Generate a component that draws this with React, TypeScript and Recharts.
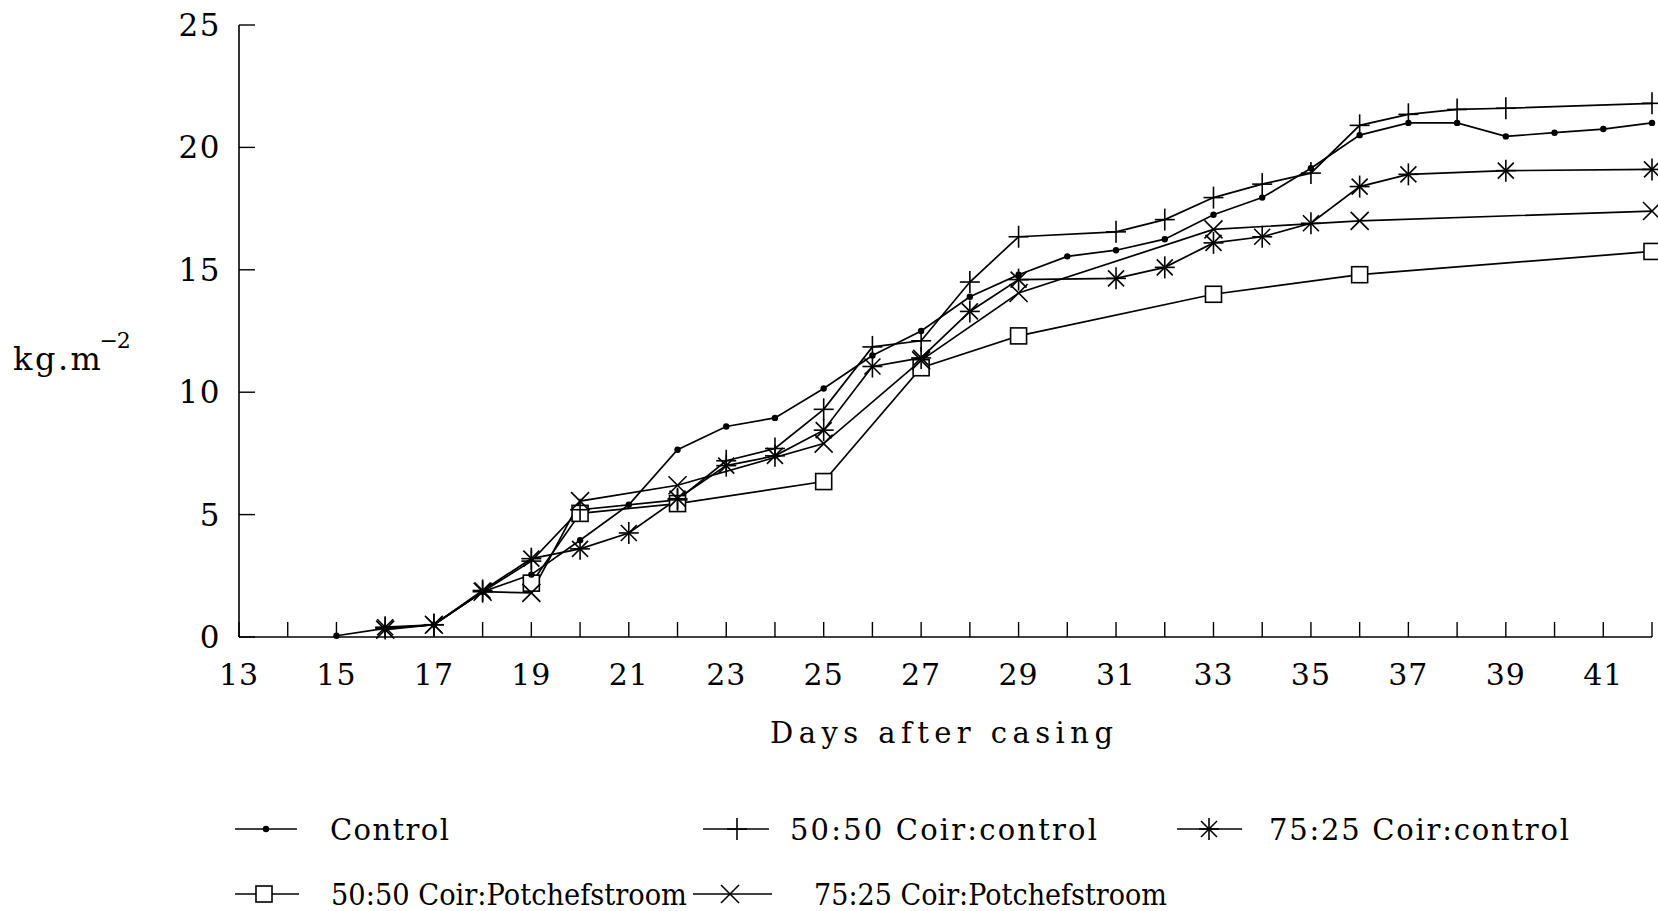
import { Line, LineChart, XAxis, YAxis } from "recharts";

// days after casing (x), kg.m-2 (y); null = no reading that day
const days = [15, 16, 17, 18, 19, 20, 21, 22, 23, 24, 25, 26, 27, 28, 29, 30, 31, 32, 33, 34, 35, 36, 37, 38, 39, 40, 41, 42];

const control = [0.05, 0.35, 0.5, 1.85, 2.55, 3.95, 5.4, 7.65, 8.6, 8.95, 10.15, 11.5, 12.5, 13.9, 14.8, 15.55, 15.8, 16.25, 17.25, 17.95, 19.15, 20.5, 21.0, 21.0, 20.45, 20.6, 20.75, 21.0];
const coir5050Control = [null, 0.35, 0.5, 1.85, 3.1, 5.2, null, 5.6, 7.2, 7.7, 9.3, 11.85, 12.1, 14.5, 16.35, null, 16.55, 17.05, 17.95, 18.5, 18.95, 20.9, 21.35, 21.55, 21.6, null, null, 21.8];
const coir7525Control = [null, 0.4, 0.5, 1.9, 3.2, 3.6, 4.25, 5.65, 7.0, 7.4, 8.45, 11.05, 11.4, 13.3, 14.6, null, 14.65, 15.1, 16.1, 16.35, 16.9, 18.4, 18.9, null, 19.05, null, null, 19.1];
const coir5050Potch = [null, null, null, null, 2.2, 5.05, null, 5.45, null, null, 6.35, null, 11.0, null, 12.3, null, null, null, 14.0, null, null, 14.8, null, null, null, null, null, 15.75];
const coir7525Potch = [null, 0.3, 0.5, 1.85, 1.8, 5.55, null, 6.2, null, null, 7.9, null, 11.3, null, 14.05, null, null, null, 16.65, null, null, 17.0, null, null, null, null, null, 17.4];

const xTicks = [13, 14, 15, 16, 17, 18, 19, 20, 21, 22, 23, 24, 25, 26, 27, 28, 29, 30, 31, 32, 33, 34, 35, 36, 37, 38, 39, 40, 41, 42];
const yTicks = [0, 5, 10, 15, 20, 25];

const series = [
  { key: "p5050", name: "50:50 Coir:Potchefstroom", values: coir5050Potch, marker: "square" },
  { key: "p7525", name: "75:25 Coir:Potchefstroom", values: coir7525Potch, marker: "cross" },
  { key: "c7525", name: "75:25 Coir:control", values: coir7525Control, marker: "star" },
  { key: "c5050", name: "50:50 Coir:control", values: coir5050Control, marker: "plus" },
  { key: "control", name: "Control", values: control, marker: "dot" },
];

const data = days.map((day, i) => {
  const row: Record<string, number | null> = { day };
  series.forEach((s) => (row[s.key] = s.values[i]));
  return row;
});

const FONT = '"DejaVu Serif", serif';
const INK = "#000";

function Marker({ kind, cx, cy }: { kind: string; cx: number; cy: number }) {
  const s = { stroke: INK, strokeWidth: 1.6, fill: "none" };
  if (kind === "dot") return <circle cx={cx} cy={cy} r={3.2} fill={INK} />;
  if (kind === "square")
    return <rect x={cx - 8} y={cy - 8} width={16} height={16} fill="#fff" stroke={INK} strokeWidth={1.6} />;
  if (kind === "plus")
    return (
      <g {...s}>
        <line x1={cx - 10} y1={cy} x2={cx + 10} y2={cy} />
        <line x1={cx} y1={cy - 11} x2={cx} y2={cy + 11} />
      </g>
    );
  if (kind === "cross")
    return (
      <g {...s}>
        <line x1={cx - 9} y1={cy - 9} x2={cx + 9} y2={cy + 9} />
        <line x1={cx - 9} y1={cy + 9} x2={cx + 9} y2={cy - 9} />
      </g>
    );
  // asterisk
  return (
    <g {...s}>
      <line x1={cx} y1={cy - 11} x2={cx} y2={cy + 11} />
      <line x1={cx - 10} y1={cy} x2={cx + 10} y2={cy} />
      <line x1={cx - 8} y1={cy - 8} x2={cx + 8} y2={cy + 8} />
      <line x1={cx - 8} y1={cy + 8} x2={cx + 8} y2={cy - 8} />
    </g>
  );
}

function XTick(props: any) {
  const { x, y, payload } = props;
  const v = payload.value;
  return (
    <g>
      <line x1={x} y1={y} x2={x} y2={y - 15} stroke={INK} strokeWidth={1.4} />
      {(v - 13) % 2 === 0 && (
        <text x={x} y={y + 48} textAnchor="middle" fontFamily={FONT} fontSize={30} letterSpacing={1} fill={INK}>
          {v}
        </text>
      )}
    </g>
  );
}

function YTick(props: any) {
  const { x, y, payload } = props;
  return (
    <g>
      <line x1={x} y1={y} x2={x + 16} y2={y} stroke={INK} strokeWidth={1.4} />
      <text x={x - 18} y={y + 11} textAnchor="end" fontFamily={FONT} fontSize={31} letterSpacing={1.5} fill={INK}>
        {payload.value}
      </text>
    </g>
  );
}

// row 2 entries are set tighter in the original, so they are condensed
const legendRows = [
  { name: "Control", marker: "dot", x1: 235, x2: 297, mx: 266, tx: 330, w: 119, fit: "spacing", y: 829 },
  { name: "50:50 Coir:control", marker: "plus", x1: 703, x2: 769, mx: 737, tx: 790, w: 307, fit: "spacing", y: 829 },
  { name: "75:25 Coir:control", marker: "star", x1: 1177, x2: 1242, mx: 1209, tx: 1269, w: 300, fit: "spacing", y: 829 },
  { name: "50:50 Coir:Potchefstroom", marker: "square", x1: 235, x2: 299, mx: 264, tx: 331, w: 356, fit: "spacingAndGlyphs", y: 894 },
  { name: "75:25 Coir:Potchefstroom", marker: "cross", x1: 693, x2: 772, mx: 730, tx: 814, w: 353, fit: "spacingAndGlyphs", y: 894 },
];

export default function App() {
  return (
    <div style={{ position: "absolute", left: 0, top: 0, width: 1658, height: 911, background: "#fff" }}>
      <LineChart width={1658} height={911} data={data} margin={{ top: 25, right: 6, bottom: 214, left: 0 }}>
        <XAxis
          dataKey="day"
          type="number"
          domain={[13, 42]}
          ticks={xTicks}
          interval={0}
          height={60}
          tickSize={0}
          tickMargin={0}
          tickLine={false}
          tick={(p: any) => <XTick {...p} />}
          axisLine={{ stroke: INK, strokeWidth: 1.6 }}
          label={{
            content: () => (
              <text
                x={770}
                y={743}
                textLength={343}
                lengthAdjust="spacing"
                fontFamily={FONT}
                fontSize={29}
                fill={INK}
              >
                Days after casing
              </text>
            ),
          }}
        />
        <YAxis
          type="number"
          domain={[0, 25]}
          ticks={yTicks}
          interval={0}
          width={239}
          tickSize={0}
          tickMargin={0}
          tickLine={false}
          tick={(p: any) => <YTick {...p} />}
          axisLine={{ stroke: INK, strokeWidth: 1.6 }}
          label={{
            content: () => (
              <text x={13} y={370} fontFamily={FONT} fontSize={32} letterSpacing={2.5} fill={INK}>
                kg.m
                <tspan fontSize={22} dx={-4} dy={-22} letterSpacing={-1}>
                  −2
                </tspan>
              </text>
            ),
          }}
        />
        {series.map((s) => (
          <Line
            key={s.key}
            dataKey={s.key}
            name={s.name}
            type="linear"
            stroke={INK}
            strokeWidth={1.7}
            connectNulls
            isAnimationActive={false}
            activeDot={false}
            dot={(p: any) =>
              p.cx == null || p.cy == null || p.value == null ? (
                <g key={p.key ?? p.index} />
              ) : (
                <Marker key={p.key ?? p.index} kind={s.marker} cx={p.cx} cy={p.cy} />
              )
            }
          />
        ))}
      </LineChart>
      <svg width={1658} height={911} style={{ position: "absolute", left: 0, top: 0, pointerEvents: "none" }}>
        {legendRows.map((r) => (
          <g key={r.name}>
            <line x1={r.x1} y1={r.y} x2={r.x2} y2={r.y} stroke={INK} strokeWidth={1.6} />
            <Marker kind={r.marker} cx={r.mx} cy={r.y} />
            <text
              x={r.tx}
              y={r.y + 11}
              textLength={r.w}
              lengthAdjust={r.fit}
              fontFamily={FONT}
              fontSize={29}
              fill={INK}
            >
              {r.name}
            </text>
          </g>
        ))}
      </svg>
    </div>
  );
}
